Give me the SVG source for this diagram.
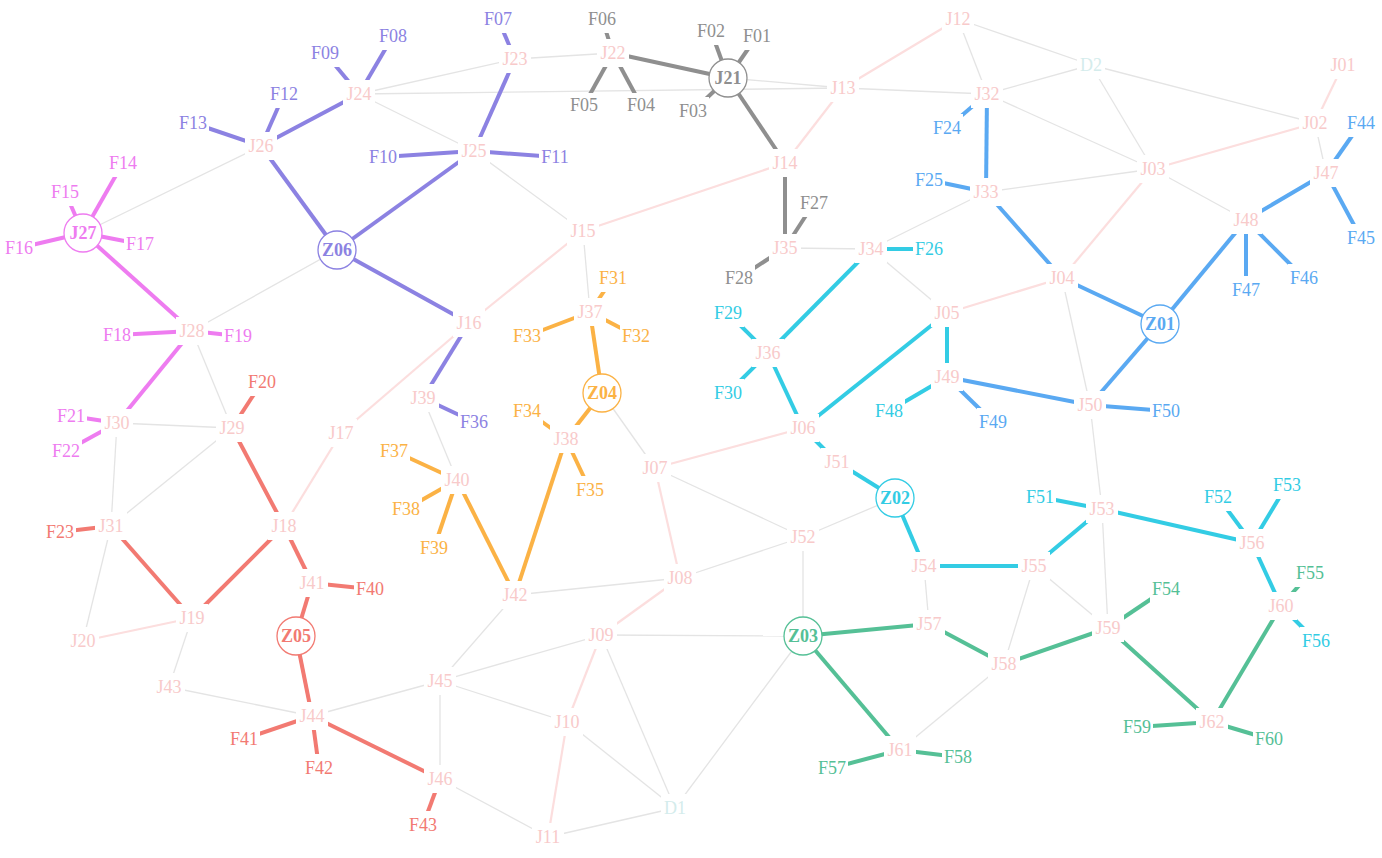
<svg xmlns="http://www.w3.org/2000/svg" width="1382" height="858" viewBox="0 0 1382 858" font-family="'Liberation Serif', 'DejaVu Serif', serif">
<style>
text{font-family:"Liberation Serif","DejaVu Serif",serif;font-size:18px;text-anchor:middle}
.h{fill:#fff}
.g{stroke:#e4e4e4;stroke-width:1.3;fill:none}
.p{stroke:#fcdede;stroke-width:2.2;fill:none}
.k{stroke-width:4;fill:none}
.c0{stroke:#8f8f8f}.c1{stroke:#8c82e2}.c2{stroke:#ee7cf0}.c3{stroke:#f27a72}.c4{stroke:#fbb245}.c5{stroke:#33cce4}.c6{stroke:#5aa9f2}.c7{stroke:#55c096}
.tj{fill:#f8caca}.td{fill:#d4ecec}
.t0{fill:#8f8f8f}.t1{fill:#8c82e2}.t2{fill:#ee7cf0}.t3{fill:#f27a72}.t4{fill:#fbb245}.t5{fill:#33cce4}.t6{fill:#5aa9f2}.t7{fill:#55c096}
.z{fill:#fff;stroke-width:1.3}
.b{font-weight:bold}
</style>
<rect width="1382" height="858" fill="#fff"/>
<g id="connectors">
<g class="g">
<line x1="359" y1="94" x2="515" y2="59"/>
<line x1="515" y1="59" x2="613" y2="53"/>
<line x1="359" y1="94" x2="843" y2="88"/>
<line x1="728" y1="78" x2="843" y2="88"/>
<line x1="359" y1="94" x2="474" y2="151"/>
<line x1="474" y1="151" x2="583" y2="231"/>
<line x1="261" y1="146" x2="83" y2="233"/>
<line x1="843" y1="88" x2="987" y2="94"/>
<line x1="958" y1="19" x2="987" y2="94"/>
<line x1="958" y1="19" x2="1091" y2="65"/>
<line x1="987" y1="94" x2="1091" y2="65"/>
<line x1="1091" y1="65" x2="1315" y2="123"/>
<line x1="1091" y1="65" x2="1153" y2="169"/>
<line x1="987" y1="94" x2="1153" y2="169"/>
<line x1="1153" y1="169" x2="986" y2="192"/>
<line x1="1153" y1="169" x2="1246" y2="220"/>
<line x1="1315" y1="123" x2="1326" y2="173"/>
<line x1="986" y1="192" x2="871" y2="249"/>
<line x1="785" y1="248" x2="871" y2="249"/>
<line x1="871" y1="249" x2="947" y2="313"/>
<line x1="1062" y1="278" x2="1090" y2="405"/>
<line x1="1090" y1="405" x2="1102" y2="509"/>
<line x1="1102" y1="509" x2="1108" y2="628"/>
<line x1="1034" y1="566" x2="1004" y2="664"/>
<line x1="1034" y1="566" x2="1108" y2="628"/>
<line x1="924" y1="566" x2="929" y2="624"/>
<line x1="1004" y1="664" x2="900" y2="750"/>
<line x1="803" y1="636" x2="803" y2="537"/>
<line x1="895" y1="498" x2="803" y2="537"/>
<line x1="803" y1="537" x2="655" y2="468"/>
<line x1="803" y1="537" x2="680" y2="578"/>
<line x1="601" y1="635" x2="803" y2="636"/>
<line x1="803" y1="636" x2="675" y2="808"/>
<line x1="601" y1="635" x2="675" y2="808"/>
<line x1="567" y1="722" x2="675" y2="808"/>
<line x1="548" y1="837" x2="675" y2="808"/>
<line x1="548" y1="837" x2="440" y2="779"/>
<line x1="440" y1="681" x2="440" y2="779"/>
<line x1="440" y1="681" x2="567" y2="722"/>
<line x1="440" y1="681" x2="601" y2="635"/>
<line x1="440" y1="681" x2="515" y2="595"/>
<line x1="440" y1="681" x2="312" y2="716"/>
<line x1="515" y1="595" x2="680" y2="578"/>
<line x1="169" y1="687" x2="312" y2="716"/>
<line x1="169" y1="687" x2="192" y2="618"/>
<line x1="83" y1="641" x2="111" y2="526"/>
<line x1="111" y1="526" x2="117" y2="423"/>
<line x1="111" y1="526" x2="232" y2="428"/>
<line x1="117" y1="423" x2="232" y2="428"/>
<line x1="192" y1="331" x2="232" y2="428"/>
<line x1="192" y1="331" x2="337" y2="250"/>
<line x1="423" y1="398" x2="457" y2="480"/>
<line x1="602" y1="393" x2="655" y2="468"/>
<line x1="583" y1="231" x2="590" y2="312"/>
</g>
<g class="p">
<line x1="958" y1="19" x2="843" y2="88"/>
<line x1="843" y1="88" x2="785" y2="163"/>
<line x1="785" y1="163" x2="583" y2="231"/>
<line x1="583" y1="231" x2="469" y2="323"/>
<line x1="469" y1="323" x2="341" y2="433"/>
<line x1="341" y1="433" x2="284" y2="526"/>
<line x1="192" y1="618" x2="83" y2="641"/>
<line x1="1343" y1="65" x2="1315" y2="123"/>
<line x1="1315" y1="123" x2="1153" y2="169"/>
<line x1="1153" y1="169" x2="1062" y2="278"/>
<line x1="1062" y1="278" x2="947" y2="313"/>
<line x1="803" y1="428" x2="655" y2="468"/>
<line x1="655" y1="468" x2="680" y2="578"/>
<line x1="680" y1="578" x2="601" y2="635"/>
<line x1="601" y1="635" x2="567" y2="722"/>
<line x1="567" y1="722" x2="548" y2="837"/>
</g>
<g class="k c0">
<line x1="728" y1="78" x2="757" y2="36"/>
<line x1="728" y1="78" x2="711" y2="31"/>
<line x1="728" y1="78" x2="693" y2="111"/>
<line x1="728" y1="78" x2="613" y2="53"/>
<line x1="613" y1="53" x2="641" y2="105"/>
<line x1="613" y1="53" x2="584" y2="105"/>
<line x1="613" y1="53" x2="602" y2="19"/>
<line x1="728" y1="78" x2="785" y2="163"/>
<line x1="785" y1="163" x2="785" y2="248"/>
<line x1="785" y1="248" x2="814" y2="203"/>
<line x1="785" y1="248" x2="739" y2="278"/>
</g>
<g class="k c1">
<line x1="359" y1="94" x2="393" y2="36"/>
<line x1="359" y1="94" x2="325" y2="53"/>
<line x1="359" y1="94" x2="261" y2="146"/>
<line x1="261" y1="146" x2="284" y2="94"/>
<line x1="261" y1="146" x2="193" y2="123"/>
<line x1="261" y1="146" x2="337" y2="250"/>
<line x1="337" y1="250" x2="474" y2="151"/>
<line x1="474" y1="151" x2="383" y2="157"/>
<line x1="474" y1="151" x2="555" y2="157"/>
<line x1="474" y1="151" x2="515" y2="59"/>
<line x1="515" y1="59" x2="498" y2="19"/>
<line x1="337" y1="250" x2="469" y2="323"/>
<line x1="469" y1="323" x2="423" y2="398"/>
<line x1="423" y1="398" x2="474" y2="422"/>
</g>
<g class="k c2">
<line x1="83" y1="233" x2="123" y2="163"/>
<line x1="83" y1="233" x2="65" y2="192"/>
<line x1="83" y1="233" x2="19" y2="248"/>
<line x1="83" y1="233" x2="140" y2="244"/>
<line x1="83" y1="233" x2="192" y2="331"/>
<line x1="192" y1="331" x2="117" y2="335"/>
<line x1="192" y1="331" x2="238" y2="336"/>
<line x1="192" y1="331" x2="117" y2="423"/>
<line x1="117" y1="423" x2="71" y2="416"/>
<line x1="117" y1="423" x2="66" y2="451"/>
</g>
<g class="k c3">
<line x1="232" y1="428" x2="262" y2="382"/>
<line x1="232" y1="428" x2="284" y2="526"/>
<line x1="284" y1="526" x2="192" y2="618"/>
<line x1="192" y1="618" x2="111" y2="526"/>
<line x1="111" y1="526" x2="60" y2="532"/>
<line x1="284" y1="526" x2="312" y2="583"/>
<line x1="312" y1="583" x2="370" y2="589"/>
<line x1="312" y1="583" x2="296" y2="636"/>
<line x1="296" y1="636" x2="312" y2="716"/>
<line x1="312" y1="716" x2="244" y2="739"/>
<line x1="312" y1="716" x2="319" y2="768"/>
<line x1="312" y1="716" x2="440" y2="779"/>
<line x1="440" y1="779" x2="423" y2="825"/>
</g>
<g class="k c4">
<line x1="590" y1="312" x2="613" y2="278"/>
<line x1="590" y1="312" x2="636" y2="336"/>
<line x1="590" y1="312" x2="527" y2="336"/>
<line x1="590" y1="312" x2="602" y2="393"/>
<line x1="602" y1="393" x2="566" y2="439"/>
<line x1="566" y1="439" x2="527" y2="411"/>
<line x1="566" y1="439" x2="590" y2="490"/>
<line x1="566" y1="439" x2="515" y2="595"/>
<line x1="515" y1="595" x2="457" y2="480"/>
<line x1="457" y1="480" x2="394" y2="451"/>
<line x1="457" y1="480" x2="406" y2="509"/>
<line x1="457" y1="480" x2="434" y2="548"/>
</g>
<g class="k c5">
<line x1="871" y1="249" x2="929" y2="249"/>
<line x1="871" y1="249" x2="768" y2="353"/>
<line x1="768" y1="353" x2="728" y2="313"/>
<line x1="768" y1="353" x2="728" y2="393"/>
<line x1="768" y1="353" x2="803" y2="428"/>
<line x1="803" y1="428" x2="947" y2="313"/>
<line x1="947" y1="313" x2="947" y2="377"/>
<line x1="947" y1="377" x2="889" y2="411"/>
<line x1="803" y1="428" x2="837" y2="462"/>
<line x1="837" y1="462" x2="895" y2="498"/>
<line x1="895" y1="498" x2="924" y2="566"/>
<line x1="924" y1="566" x2="1034" y2="566"/>
<line x1="1034" y1="566" x2="1102" y2="509"/>
<line x1="1102" y1="509" x2="1040" y2="497"/>
<line x1="1102" y1="509" x2="1252" y2="543"/>
<line x1="1252" y1="543" x2="1218" y2="497"/>
<line x1="1252" y1="543" x2="1287" y2="485"/>
<line x1="1252" y1="543" x2="1281" y2="606"/>
<line x1="1281" y1="606" x2="1316" y2="641"/>
</g>
<g class="k c6">
<line x1="987" y1="94" x2="947" y2="128"/>
<line x1="987" y1="94" x2="986" y2="192"/>
<line x1="986" y1="192" x2="929" y2="180"/>
<line x1="986" y1="192" x2="1062" y2="278"/>
<line x1="1062" y1="278" x2="1160" y2="324"/>
<line x1="1160" y1="324" x2="1246" y2="220"/>
<line x1="1246" y1="220" x2="1326" y2="173"/>
<line x1="1326" y1="173" x2="1361" y2="123"/>
<line x1="1326" y1="173" x2="1361" y2="238"/>
<line x1="1246" y1="220" x2="1304" y2="278"/>
<line x1="1246" y1="220" x2="1246" y2="290"/>
<line x1="1160" y1="324" x2="1090" y2="405"/>
<line x1="1090" y1="405" x2="1166" y2="411"/>
<line x1="947" y1="377" x2="1090" y2="405"/>
<line x1="947" y1="377" x2="993" y2="422"/>
</g>
<g class="k c7">
<line x1="803" y1="636" x2="929" y2="624"/>
<line x1="929" y1="624" x2="1004" y2="664"/>
<line x1="1004" y1="664" x2="1108" y2="628"/>
<line x1="1108" y1="628" x2="1166" y2="589"/>
<line x1="1108" y1="628" x2="1212" y2="722"/>
<line x1="1212" y1="722" x2="1137" y2="727"/>
<line x1="1212" y1="722" x2="1269" y2="739"/>
<line x1="1212" y1="722" x2="1281" y2="606"/>
<line x1="1281" y1="606" x2="1310" y2="573"/>
<line x1="803" y1="636" x2="900" y2="750"/>
<line x1="900" y1="750" x2="832" y2="768"/>
<line x1="900" y1="750" x2="958" y2="757"/>
</g>
</g>
<g id="nodes">
<g id="J01"><rect class="h" x="1327" y="51" width="32" height="28"/><text class="tj" x="1343" y="71">J01</text></g>
<g id="J02"><rect class="h" x="1299" y="109" width="32" height="28"/><text class="tj" x="1315" y="129">J02</text></g>
<g id="J03"><rect class="h" x="1137" y="155" width="32" height="28"/><text class="tj" x="1153" y="175">J03</text></g>
<g id="J04"><rect class="h" x="1046" y="264" width="32" height="28"/><text class="tj" x="1062" y="284">J04</text></g>
<g id="J05"><rect class="h" x="931" y="299" width="32" height="28"/><text class="tj" x="947" y="319">J05</text></g>
<g id="J06"><rect class="h" x="787" y="414" width="32" height="28"/><text class="tj" x="803" y="434">J06</text></g>
<g id="J07"><rect class="h" x="639" y="454" width="32" height="28"/><text class="tj" x="655" y="474">J07</text></g>
<g id="J08"><rect class="h" x="664" y="564" width="32" height="28"/><text class="tj" x="680" y="584">J08</text></g>
<g id="J09"><rect class="h" x="585" y="621" width="32" height="28"/><text class="tj" x="601" y="641">J09</text></g>
<g id="J10"><rect class="h" x="551" y="708" width="32" height="28"/><text class="tj" x="567" y="728">J10</text></g>
<g id="J11"><rect class="h" x="532" y="823" width="32" height="28"/><text class="tj" x="548" y="843">J11</text></g>
<g id="J12"><rect class="h" x="942" y="5" width="32" height="28"/><text class="tj" x="958" y="25">J12</text></g>
<g id="J13"><rect class="h" x="827" y="74" width="32" height="28"/><text class="tj" x="843" y="94">J13</text></g>
<g id="J14"><rect class="h" x="769" y="149" width="32" height="28"/><text class="tj" x="785" y="169">J14</text></g>
<g id="J15"><rect class="h" x="567" y="217" width="32" height="28"/><text class="tj" x="583" y="237">J15</text></g>
<g id="J16"><rect class="h" x="453" y="309" width="32" height="28"/><text class="tj" x="469" y="329">J16</text></g>
<g id="J17"><rect class="h" x="325" y="419" width="32" height="28"/><text class="tj" x="341" y="439">J17</text></g>
<g id="J18"><rect class="h" x="268" y="512" width="32" height="28"/><text class="tj" x="284" y="532">J18</text></g>
<g id="J19"><rect class="h" x="176" y="604" width="32" height="28"/><text class="tj" x="192" y="624">J19</text></g>
<g id="J20"><rect class="h" x="67" y="627" width="32" height="28"/><text class="tj" x="83" y="647">J20</text></g>
<g id="J21"><circle class="z c0" cx="728" cy="78" r="19"/><text class="t0 b" x="728" y="84">J21</text></g>
<g id="J22"><rect class="h" x="597" y="39" width="32" height="28"/><text class="tj" x="613" y="59">J22</text></g>
<g id="J23"><rect class="h" x="499" y="45" width="32" height="28"/><text class="tj" x="515" y="65">J23</text></g>
<g id="J24"><rect class="h" x="343" y="80" width="32" height="28"/><text class="tj" x="359" y="100">J24</text></g>
<g id="J25"><rect class="h" x="458" y="137" width="32" height="28"/><text class="tj" x="474" y="157">J25</text></g>
<g id="J26"><rect class="h" x="245" y="132" width="32" height="28"/><text class="tj" x="261" y="152">J26</text></g>
<g id="J27"><circle class="z c2" cx="83" cy="233" r="19"/><text class="t2 b" x="83" y="239">J27</text></g>
<g id="J28"><rect class="h" x="176" y="317" width="32" height="28"/><text class="tj" x="192" y="337">J28</text></g>
<g id="J29"><rect class="h" x="216" y="414" width="32" height="28"/><text class="tj" x="232" y="434">J29</text></g>
<g id="J30"><rect class="h" x="101" y="409" width="32" height="28"/><text class="tj" x="117" y="429">J30</text></g>
<g id="J31"><rect class="h" x="95" y="512" width="32" height="28"/><text class="tj" x="111" y="532">J31</text></g>
<g id="J32"><rect class="h" x="971" y="80" width="32" height="28"/><text class="tj" x="987" y="100">J32</text></g>
<g id="J33"><rect class="h" x="970" y="178" width="32" height="28"/><text class="tj" x="986" y="198">J33</text></g>
<g id="J34"><rect class="h" x="855" y="235" width="32" height="28"/><text class="tj" x="871" y="255">J34</text></g>
<g id="J35"><rect class="h" x="769" y="234" width="32" height="28"/><text class="tj" x="785" y="254">J35</text></g>
<g id="J36"><rect class="h" x="752" y="339" width="32" height="28"/><text class="tj" x="768" y="359">J36</text></g>
<g id="J37"><rect class="h" x="574" y="298" width="32" height="28"/><text class="tj" x="590" y="318">J37</text></g>
<g id="J38"><rect class="h" x="550" y="425" width="32" height="28"/><text class="tj" x="566" y="445">J38</text></g>
<g id="J39"><rect class="h" x="407" y="384" width="32" height="28"/><text class="tj" x="423" y="404">J39</text></g>
<g id="J40"><rect class="h" x="441" y="466" width="32" height="28"/><text class="tj" x="457" y="486">J40</text></g>
<g id="J41"><rect class="h" x="296" y="569" width="32" height="28"/><text class="tj" x="312" y="589">J41</text></g>
<g id="J42"><rect class="h" x="499" y="581" width="32" height="28"/><text class="tj" x="515" y="601">J42</text></g>
<g id="J43"><rect class="h" x="153" y="673" width="32" height="28"/><text class="tj" x="169" y="693">J43</text></g>
<g id="J44"><rect class="h" x="296" y="702" width="32" height="28"/><text class="tj" x="312" y="722">J44</text></g>
<g id="J45"><rect class="h" x="424" y="667" width="32" height="28"/><text class="tj" x="440" y="687">J45</text></g>
<g id="J46"><rect class="h" x="424" y="765" width="32" height="28"/><text class="tj" x="440" y="785">J46</text></g>
<g id="J47"><rect class="h" x="1310" y="159" width="32" height="28"/><text class="tj" x="1326" y="179">J47</text></g>
<g id="J48"><rect class="h" x="1230" y="206" width="32" height="28"/><text class="tj" x="1246" y="226">J48</text></g>
<g id="J49"><rect class="h" x="931" y="363" width="32" height="28"/><text class="tj" x="947" y="383">J49</text></g>
<g id="J50"><rect class="h" x="1074" y="391" width="32" height="28"/><text class="tj" x="1090" y="411">J50</text></g>
<g id="J51"><rect class="h" x="821" y="448" width="32" height="28"/><text class="tj" x="837" y="468">J51</text></g>
<g id="J52"><rect class="h" x="787" y="523" width="32" height="28"/><text class="tj" x="803" y="543">J52</text></g>
<g id="J53"><rect class="h" x="1086" y="495" width="32" height="28"/><text class="tj" x="1102" y="515">J53</text></g>
<g id="J54"><rect class="h" x="908" y="552" width="32" height="28"/><text class="tj" x="924" y="572">J54</text></g>
<g id="J55"><rect class="h" x="1018" y="552" width="32" height="28"/><text class="tj" x="1034" y="572">J55</text></g>
<g id="J56"><rect class="h" x="1236" y="529" width="32" height="28"/><text class="tj" x="1252" y="549">J56</text></g>
<g id="J57"><rect class="h" x="913" y="610" width="32" height="28"/><text class="tj" x="929" y="630">J57</text></g>
<g id="J58"><rect class="h" x="988" y="650" width="32" height="28"/><text class="tj" x="1004" y="670">J58</text></g>
<g id="J59"><rect class="h" x="1092" y="614" width="32" height="28"/><text class="tj" x="1108" y="634">J59</text></g>
<g id="J60"><rect class="h" x="1265" y="592" width="32" height="28"/><text class="tj" x="1281" y="612">J60</text></g>
<g id="J61"><rect class="h" x="884" y="736" width="32" height="28"/><text class="tj" x="900" y="756">J61</text></g>
<g id="J62"><rect class="h" x="1196" y="708" width="32" height="28"/><text class="tj" x="1212" y="728">J62</text></g>
<g id="D1"><rect class="h" x="661" y="794" width="28" height="28"/><text class="td" x="675" y="814">D1</text></g>
<g id="D2"><rect class="h" x="1077" y="51" width="28" height="28"/><text class="td" x="1091" y="71">D2</text></g>
<g id="Z01"><circle class="z c6" cx="1160" cy="324" r="19"/><text class="t6 b" x="1160" y="330">Z01</text></g>
<g id="Z02"><circle class="z c5" cx="895" cy="498" r="19"/><text class="t5 b" x="895" y="504">Z02</text></g>
<g id="Z03"><circle class="z c7" cx="803" cy="636" r="19"/><text class="t7 b" x="803" y="642">Z03</text></g>
<g id="Z04"><circle class="z c4" cx="602" cy="393" r="19"/><text class="t4 b" x="602" y="399">Z04</text></g>
<g id="Z05"><circle class="z c3" cx="296" cy="636" r="19"/><text class="t3 b" x="296" y="642">Z05</text></g>
<g id="Z06"><circle class="z c1" cx="337" cy="250" r="19"/><text class="t1 b" x="337" y="256">Z06</text></g>
<g id="F01"><rect class="h" x="741" y="22" width="32" height="28"/><text class="t0" x="757" y="42">F01</text></g>
<g id="F02"><rect class="h" x="695" y="17" width="32" height="28"/><text class="t0" x="711" y="37">F02</text></g>
<g id="F03"><rect class="h" x="677" y="97" width="32" height="28"/><text class="t0" x="693" y="117">F03</text></g>
<g id="F04"><rect class="h" x="625" y="93" width="32" height="26"/><text class="t0" x="641" y="111">F04</text></g>
<g id="F05"><rect class="h" x="568" y="93" width="32" height="26"/><text class="t0" x="584" y="111">F05</text></g>
<g id="F06"><rect class="h" x="586" y="5" width="32" height="28"/><text class="t0" x="602" y="25">F06</text></g>
<g id="F07"><rect class="h" x="482" y="5" width="32" height="28"/><text class="t1" x="498" y="25">F07</text></g>
<g id="F08"><rect class="h" x="377" y="22" width="32" height="28"/><text class="t1" x="393" y="42">F08</text></g>
<g id="F09"><rect class="h" x="309" y="39" width="32" height="28"/><text class="t1" x="325" y="59">F09</text></g>
<g id="F10"><rect class="h" x="367" y="143" width="32" height="28"/><text class="t1" x="383" y="163">F10</text></g>
<g id="F11"><rect class="h" x="539" y="143" width="32" height="28"/><text class="t1" x="555" y="163">F11</text></g>
<g id="F12"><rect class="h" x="268" y="80" width="32" height="28"/><text class="t1" x="284" y="100">F12</text></g>
<g id="F13"><rect class="h" x="177" y="109" width="32" height="28"/><text class="t1" x="193" y="129">F13</text></g>
<g id="F14"><rect class="h" x="107" y="149" width="32" height="28"/><text class="t2" x="123" y="169">F14</text></g>
<g id="F15"><rect class="h" x="49" y="178" width="32" height="28"/><text class="t2" x="65" y="198">F15</text></g>
<g id="F16"><rect class="h" x="3" y="234" width="32" height="28"/><text class="t2" x="19" y="254">F16</text></g>
<g id="F17"><rect class="h" x="124" y="230" width="32" height="28"/><text class="t2" x="140" y="250">F17</text></g>
<g id="F18"><rect class="h" x="101" y="321" width="32" height="28"/><text class="t2" x="117" y="341">F18</text></g>
<g id="F19"><rect class="h" x="222" y="322" width="32" height="28"/><text class="t2" x="238" y="342">F19</text></g>
<g id="F20"><rect class="h" x="246" y="368" width="32" height="28"/><text class="t3" x="262" y="388">F20</text></g>
<g id="F21"><rect class="h" x="55" y="402" width="32" height="28"/><text class="t2" x="71" y="422">F21</text></g>
<g id="F22"><rect class="h" x="50" y="437" width="32" height="28"/><text class="t2" x="66" y="457">F22</text></g>
<g id="F23"><rect class="h" x="44" y="518" width="32" height="28"/><text class="t3" x="60" y="538">F23</text></g>
<g id="F24"><rect class="h" x="931" y="114" width="32" height="28"/><text class="t6" x="947" y="134">F24</text></g>
<g id="F25"><rect class="h" x="913" y="166" width="32" height="28"/><text class="t6" x="929" y="186">F25</text></g>
<g id="F26"><rect class="h" x="913" y="235" width="32" height="28"/><text class="t5" x="929" y="255">F26</text></g>
<g id="F27"><rect class="h" x="798" y="189" width="32" height="28"/><text class="t0" x="814" y="209">F27</text></g>
<g id="F28"><rect class="h" x="723" y="264" width="32" height="28"/><text class="t0" x="739" y="284">F28</text></g>
<g id="F29"><rect class="h" x="712" y="299" width="32" height="28"/><text class="t5" x="728" y="319">F29</text></g>
<g id="F30"><rect class="h" x="712" y="379" width="32" height="28"/><text class="t5" x="728" y="399">F30</text></g>
<g id="F31"><rect class="h" x="597" y="264" width="32" height="28"/><text class="t4" x="613" y="284">F31</text></g>
<g id="F32"><rect class="h" x="620" y="322" width="32" height="28"/><text class="t4" x="636" y="342">F32</text></g>
<g id="F33"><rect class="h" x="511" y="322" width="32" height="28"/><text class="t4" x="527" y="342">F33</text></g>
<g id="F34"><rect class="h" x="511" y="397" width="32" height="28"/><text class="t4" x="527" y="417">F34</text></g>
<g id="F35"><rect class="h" x="574" y="476" width="32" height="28"/><text class="t4" x="590" y="496">F35</text></g>
<g id="F36"><rect class="h" x="458" y="408" width="32" height="28"/><text class="t1" x="474" y="428">F36</text></g>
<g id="F37"><rect class="h" x="378" y="437" width="32" height="28"/><text class="t4" x="394" y="457">F37</text></g>
<g id="F38"><rect class="h" x="390" y="495" width="32" height="28"/><text class="t4" x="406" y="515">F38</text></g>
<g id="F39"><rect class="h" x="418" y="534" width="32" height="28"/><text class="t4" x="434" y="554">F39</text></g>
<g id="F40"><rect class="h" x="354" y="575" width="32" height="28"/><text class="t3" x="370" y="595">F40</text></g>
<g id="F41"><rect class="h" x="228" y="725" width="32" height="28"/><text class="t3" x="244" y="745">F41</text></g>
<g id="F42"><rect class="h" x="303" y="754" width="32" height="28"/><text class="t3" x="319" y="774">F42</text></g>
<g id="F43"><rect class="h" x="407" y="811" width="32" height="28"/><text class="t3" x="423" y="831">F43</text></g>
<g id="F44"><rect class="h" x="1345" y="109" width="32" height="28"/><text class="t6" x="1361" y="129">F44</text></g>
<g id="F45"><rect class="h" x="1345" y="224" width="32" height="28"/><text class="t6" x="1361" y="244">F45</text></g>
<g id="F46"><rect class="h" x="1288" y="264" width="32" height="28"/><text class="t6" x="1304" y="284">F46</text></g>
<g id="F47"><rect class="h" x="1230" y="276" width="32" height="28"/><text class="t6" x="1246" y="296">F47</text></g>
<g id="F48"><rect class="h" x="873" y="397" width="32" height="28"/><text class="t5" x="889" y="417">F48</text></g>
<g id="F49"><rect class="h" x="977" y="408" width="32" height="28"/><text class="t6" x="993" y="428">F49</text></g>
<g id="F50"><rect class="h" x="1150" y="397" width="32" height="28"/><text class="t6" x="1166" y="417">F50</text></g>
<g id="F51"><rect class="h" x="1024" y="483" width="32" height="28"/><text class="t5" x="1040" y="503">F51</text></g>
<g id="F52"><rect class="h" x="1202" y="483" width="32" height="28"/><text class="t5" x="1218" y="503">F52</text></g>
<g id="F53"><rect class="h" x="1271" y="471" width="32" height="28"/><text class="t5" x="1287" y="491">F53</text></g>
<g id="F54"><rect class="h" x="1150" y="575" width="32" height="28"/><text class="t7" x="1166" y="595">F54</text></g>
<g id="F55"><rect class="h" x="1294" y="559" width="32" height="28"/><text class="t7" x="1310" y="579">F55</text></g>
<g id="F56"><rect class="h" x="1300" y="627" width="32" height="28"/><text class="t5" x="1316" y="647">F56</text></g>
<g id="F57"><rect class="h" x="816" y="754" width="32" height="28"/><text class="t7" x="832" y="774">F57</text></g>
<g id="F58"><rect class="h" x="942" y="743" width="32" height="28"/><text class="t7" x="958" y="763">F58</text></g>
<g id="F59"><rect class="h" x="1121" y="713" width="32" height="28"/><text class="t7" x="1137" y="733">F59</text></g>
<g id="F60"><rect class="h" x="1253" y="725" width="32" height="28"/><text class="t7" x="1269" y="745">F60</text></g>
</g>
</svg>
